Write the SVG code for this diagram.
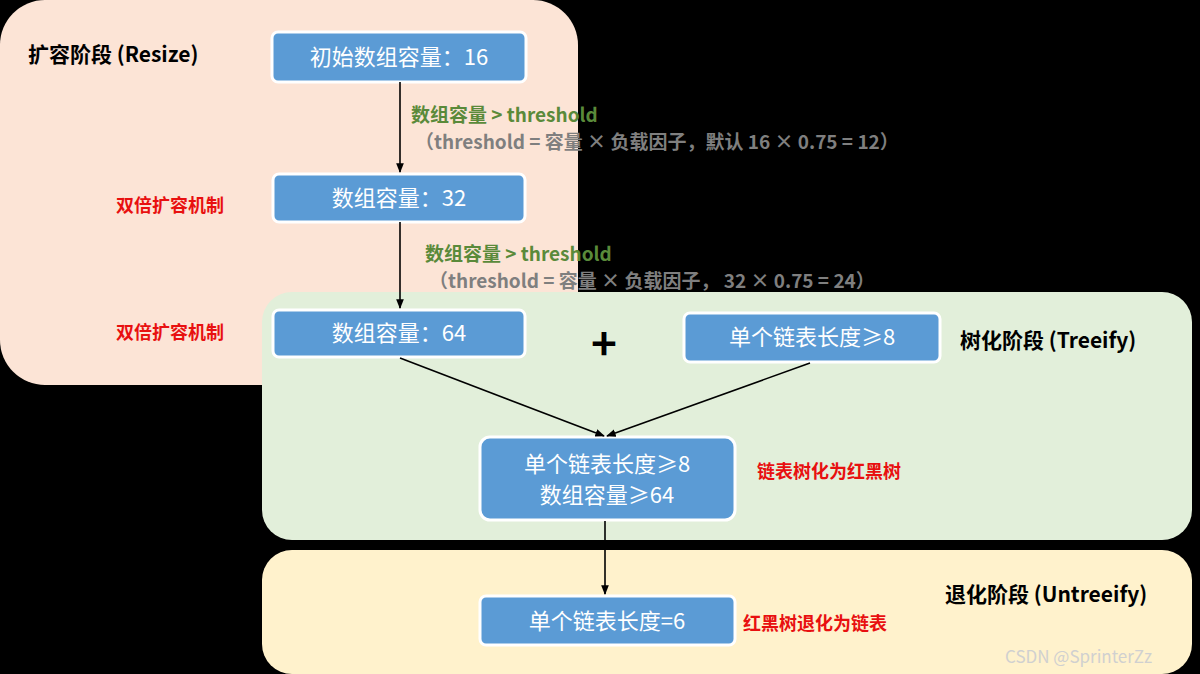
<svg xmlns="http://www.w3.org/2000/svg" width="1200" height="674" viewBox="0 0 1200 674">
<defs>
<marker id="ah" viewBox="0 0 10 10" refX="9" refY="5" markerWidth="6" markerHeight="6" orient="auto"><path d="M0,1 L10,5 L0,9 z" fill="#000"/></marker>
<style>
text{font-family:"Noto Sans CJK SC","Noto Sans",sans-serif}
.node rect{fill:#5b9bd5;stroke:#fff;stroke-width:3}
.nt{fill:#fff;font-size:22px;text-anchor:middle}
.ttl{font-size:21px;font-weight:bold;fill:#000}
.red{fill:#e81010;font-size:18px;font-weight:bold}
.grn{fill:#5a8a3a;font-size:19px;font-weight:bold}
.gry{fill:#7f7f7f;font-size:19px;font-weight:bold}
.c line{stroke:#000;stroke-width:1.6;marker-end:url(#ah)}
</style>
</defs>
<rect width="1200" height="674" fill="#000"/>
<g id="panel-resize"><rect x="0" y="0" width="578" height="385" rx="45" fill="#fce4d6"/><text class="ttl" x="28" y="62">扩容阶段 (Resize)</text></g>
<g id="panel-treeify"><rect x="262" y="292" width="930" height="248" rx="30" fill="#e2efda"/><text class="ttl" x="960" y="348">树化阶段 (Treeify)</text></g>
<g id="panel-untreeify"><rect x="262" y="550" width="930" height="124" rx="30" fill="#fff2cc"/><text class="ttl" x="945" y="602">退化阶段 (Untreeify)</text></g>
<g id="n1" class="node"><rect x="272" y="32" width="254" height="50" rx="6"/><text class="nt" x="399" y="65">初始数组容量：16</text></g>
<g id="n2" class="node"><rect x="273" y="174" width="252" height="48" rx="6"/><text class="nt" x="399" y="206">数组容量：32</text></g>
<g id="n3" class="node"><rect x="273" y="310" width="252" height="47" rx="6"/><text class="nt" x="399" y="341">数组容量：64</text></g>
<g id="n4" class="node"><rect x="684" y="313" width="256" height="49" rx="6"/><text class="nt" x="812" y="345">单个链表长度≥8</text></g>
<g id="n5" class="node"><rect x="480" y="437" width="255" height="83" rx="10"/><text class="nt" x="607" y="472">单个链表长度≥8</text><text class="nt" x="607" y="503">数组容量≥64</text></g>
<g id="n6" class="node"><rect x="480" y="596" width="255" height="49" rx="6"/><text class="nt" x="607" y="629">单个链表长度=6</text></g>
<g id="connectors" class="c">
<line x1="400" y1="82" x2="400" y2="172"/>
<line x1="400" y1="222" x2="400" y2="308"/>
<line x1="400" y1="358" x2="604" y2="436"/>
<line x1="810" y1="363" x2="607" y2="436"/>
<line x1="605" y1="521" x2="605" y2="594"/>
</g>
<g id="labels">
<text class="grn" x="411" y="122">数组容量 &gt; threshold</text>
<text class="gry" x="415" y="149">（threshold = 容量 × 负载因子，默认 16 × 0.75 = 12）</text>
<text class="grn" x="425" y="261">数组容量 &gt; threshold</text>
<text class="gry" x="429" y="288">（threshold = 容量 × 负载因子， 32 × 0.75 = 24）</text>
<text class="red" x="116" y="212">双倍扩容机制</text>
<text class="red" x="116" y="339">双倍扩容机制</text>
<text x="604" y="360" font-size="44" font-weight="bold" text-anchor="middle" fill="#000" font-family="Liberation Sans,sans-serif">+</text>
<text class="red" x="757" y="478">链表树化为红黑树</text>
<text class="red" x="743" y="630">红黑树退化为链表</text>
<text x="1005" y="663" font-size="17" fill="#d0d0d0" font-family="Liberation Sans,sans-serif">CSDN @SprinterZz</text>
</g>
</svg>
